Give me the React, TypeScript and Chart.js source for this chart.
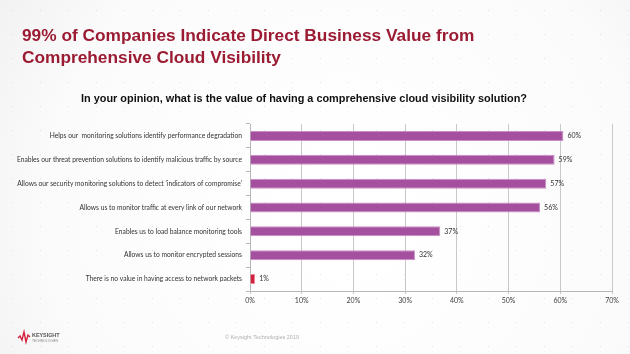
import React, { useEffect, useRef } from "react";
import { Chart, registerables } from "chart.js";

Chart.register(...registerables);

const titleLines = [
  "99% of Companies Indicate Direct Business Value from",
  "Comprehensive Cloud Visibility",
];
const subtitle =
  "In your opinion, what is the value of having a comprehensive cloud visibility solution?";
const footer = "\u00A9 Keysight Technologies 2019";

const categories = [
  "Helps our  monitoring solutions identify performance degradation",
  "Enables our threat prevention solutions to identify malicious traffic by source",
  "Allows our security monitoring solutions to detect 'indicators of compromise'",
  "Allows us to monitor traffic at every link of our network",
  "Enables us to load balance monitoring tools",
  "Allows us to monitor encrypted sessions",
  "There is no value in having access to network packets",
];
const values = [60.6, 58.9, 57.3, 56.1, 36.8, 31.9, 1.0];
const valueLabels = ["60%", "59%", "57%", "56%", "37%", "32%", "1%"];
const barColors = ["#a4509e", "#a4509e", "#a4509e", "#a4509e", "#a4509e", "#a4509e", "#d4203f"];
const barBorders = ["#c98fc4", "#c98fc4", "#c98fc4", "#c98fc4", "#c98fc4", "#c98fc4", "#e88a9a"];
const xTicks = [0, 10, 20, 30, 40, 50, 60, 70];

const labelFont = "Lato, 'Open Sans', sans-serif";

const decor = {
  id: "decor",
  beforeDraw(chart: any) {
    const ctx = chart.ctx;
    const w = chart.width;
    const h = chart.height;
    ctx.save();
    const g = ctx.createRadialGradient(w * 0.55, h * 0.6, 40, w * 0.55, h * 0.6, w * 0.75);
    g.addColorStop(0, "#ffffff");
    g.addColorStop(0.6, "#fbfbfb");
    g.addColorStop(1, "#ececec");
    ctx.fillStyle = g;
    ctx.fillRect(0, 0, w, h);
    ctx.fillStyle = "rgba(150,150,150,0.25)";
    for (let x = 12; x < w; x += 28) {
      for (let y = 10; y < h; y += 24) {
        ctx.fillRect(x, y, 1, 1);
      }
    }
    ctx.restore();
  },
  afterDraw(chart: any) {
    const ctx = chart.ctx;
    ctx.save();
    // Title
    ctx.fillStyle = "#9b1b33";
    ctx.font = "bold 17.3px 'Liberation Sans', Arial, sans-serif";
    ctx.textBaseline = "alphabetic";
    ctx.textAlign = "left";
    ctx.fillText(titleLines[0], 22, 41);
    ctx.fillText(titleLines[1], 22, 63);
    // Subtitle
    ctx.fillStyle = "#111111";
    ctx.font = "bold 10.9px 'Liberation Sans', Arial, sans-serif";
    ctx.textAlign = "center";
    ctx.fillText(subtitle, 304, 102);
    // Footer
    ctx.fillStyle = "#b0b0b0";
    ctx.font = "5.5px 'Liberation Sans', Arial, sans-serif";
    ctx.fillText(footer, 262, 339);
    // Logo
    ctx.strokeStyle = "#d4203f";
    ctx.lineWidth = 1.4;
    ctx.beginPath();
    const pts = [
      [18, 338], [20, 336], [22, 340], [24, 332], [26, 342], [28, 335], [30, 337],
    ];
    pts.forEach((p, i) => (i ? ctx.lineTo(p[0], p[1]) : ctx.moveTo(p[0], p[1])));
    ctx.stroke();
    ctx.textAlign = "left";
    ctx.fillStyle = "#555555";
    ctx.font = "bold 5.4px 'Liberation Sans', Arial, sans-serif";
    ctx.fillText("KEYSIGHT", 32, 337);
    ctx.fillStyle = "#888888";
    ctx.font = "3.3px 'Liberation Sans', Arial, sans-serif";
    ctx.fillText("TECHNOLOGIES", 32, 342);
    // Value labels
    const meta = chart.getDatasetMeta(0);
    ctx.fillStyle = "#333333";
    ctx.font = `7px ${labelFont}`;
    ctx.textBaseline = "middle";
    meta.data.forEach((bar: any, i: number) => {
      ctx.fillText(valueLabels[i], bar.x + 4, bar.y);
    });
    ctx.restore();
  },
};

export default function App() {
  const ref = useRef<HTMLCanvasElement>(null);
  useEffect(() => {
    document.body.style.margin = "0";
    const chart = new Chart(ref.current!, {
      type: "bar",
      data: {
        labels: categories,
        datasets: [
          {
            data: values,
            backgroundColor: barColors,
            borderColor: barBorders,
            borderWidth: 1,
            barPercentage: 0.42,
            categoryPercentage: 1,
          },
        ],
      },
      options: {
        indexAxis: "y",
        animation: false,
        responsive: false,
        layout: { padding: { left: 0, right: 18, top: 124, bottom: 43 } },
        plugins: { legend: { display: false }, tooltip: { enabled: false } },
        scales: {
          x: {
            min: 0,
            max: 70,
            afterBuildTicks: (s: any) => {
              s.ticks = xTicks.map((v) => ({ value: v }));
            },
            afterFit: (s: any) => {
              s.height = 20;
            },
            grid: { color: "#c8c8c8", tickLength: 3, drawTicks: true },
            border: { color: "#b8b8b8" },
            ticks: {
              color: "#404040",
              font: { size: 7, family: labelFont },
              padding: 3,
              callback: (v: any) => v + "%",
            },
          },
          y: {
            afterFit: (s: any) => {
              s.width = 250;
            },
            grid: { display: true, drawOnChartArea: false, tickLength: 4, color: "#b8b8b8", offset: true },
            border: { color: "#b8b8b8" },
            ticks: {
              color: "#333333",
              font: { size: 6.7, family: labelFont },
              padding: 4,
              autoSkip: false,
            },
          },
        },
      },
      plugins: [decor],
    });
    return () => chart.destroy();
  }, []);
  return (
    <div style={{ position: "fixed", left: 0, top: 0, width: 630, height: 354 }}>
      <canvas ref={ref} width={630} height={354} style={{ width: 630, height: 354 }} />
    </div>
  );
}
